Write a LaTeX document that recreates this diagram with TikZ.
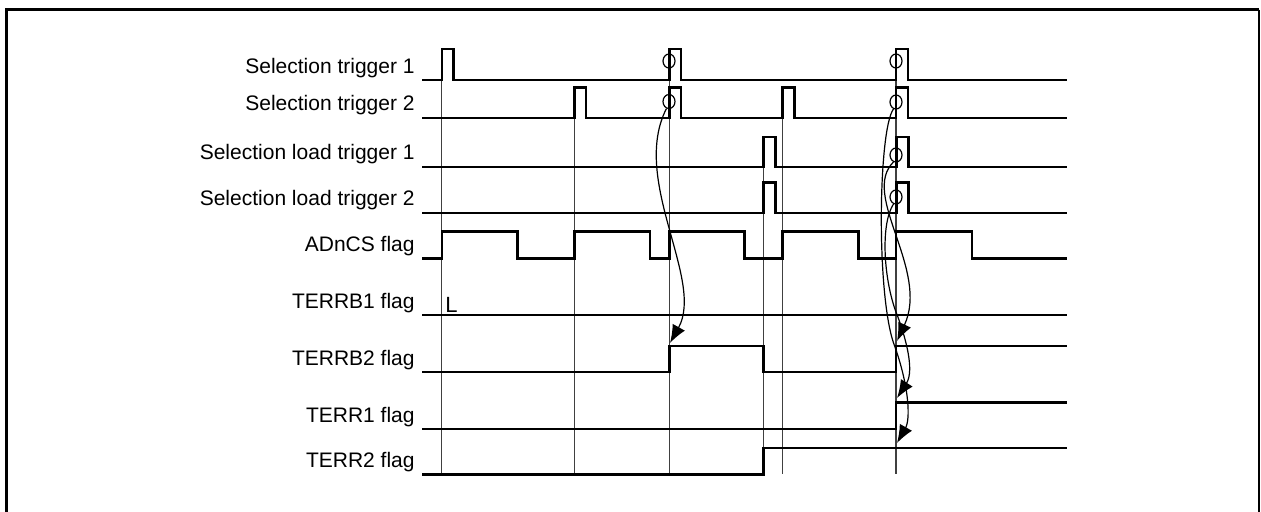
\documentclass[tikz,border=0pt]{standalone}
\usepackage{fontspec}
\setmainfont{Liberation Sans}
\usetikzlibrary{arrows.meta, shapes.geometric}

\begin{document}
\begin{tikzpicture}[x=0.5pt, y=-0.5pt,
			font=\fontsize{10.5}{12}\selectfont,
			sig/.style={line width=1.2pt, line join=miter},
			guide/.style={black!75, line width=0.6pt},
			lbl/.style={anchor=base east, inner sep=0pt},
			ring/.style={draw, ellipse, line width=0.6pt, minimum width=6pt, minimum height=7pt, inner sep=0pt},
			link/.style={-{Latex[length=9pt,width=7pt]}, line width=0.6pt}]   % arrow tips
			\useasboundingbox (0,0) rectangle (1261,511);
			% frame
			\draw[line width=1.5pt] (6.7,515) -- (6.7,9.5) -- (1259,9.5);
			\draw[line width=1pt] (1259,9.5) -- (1259,515);
			% signal names
			\foreach \n/\y/\t in {st1/80/Selection trigger 1, st2/117.7/Selection trigger 2,
				slt1/166.7/Selection load trigger 1, slt2/212.7/Selection load trigger 2,
				adcs/258.3/ADnCS flag, terrb1/315/TERRB1 flag, terrb2/372/TERRB2 flag,
				terr1/429/TERR1 flag, terr2/474.3/TERR2 flag}
				\node[lbl] (\n) at (415,\y-7) {\t};
			\node[anchor=base west, inner sep=0pt, font=\fontsize{11}{13}\selectfont] (low) at (445,312) {L};
			% timing guides
			\foreach \x/\y in {441.7/49, 574.3/87.3, 669.3/49, 763.5/136.7, 782.5/87.3, 896/49}
				\draw[guide] (\x,\y) -- (\x,474.3);
			% waveforms
			\draw[sig] (422,80) -- (441.7,80) |- (453.3,49) |- (669.3,80) |- (681,49) |- (896,80) |- (907.7,49) |- (1067,80);
			\draw[sig] (422,117.7) -- (574.3,117.7) |- (585.7,87.3) |- (669.3,117.7) |- (681,87.3) |- (782.5,117.7) |- (794.5,87.3) |- (896,117.7) |- (907.7,87.3) |- (1067,117.7);
			\draw[sig] (422,166.7) -- (763.5,166.7) |- (775.5,136.7) |- (896.5,166.7) |- (908.5,136.7) |- (1067,166.7);
			\draw[sig] (422,212.7) -- (763.5,212.7) |- (775.5,182.3) |- (896.5,212.7) |- (908.5,182.3) |- (1067,212.7);
			\draw[sig] (422,258.3) -- (441.7,258.3) |- (517.3,231.3) |- (574.3,258.3) |- (650,231.3) |- (669.3,258.3) |- (744.3,231.3) |- (782.5,258.3) |- (858.3,231.3) |- (896,258.3) |- (972,231.3) |- (1067,258.3);
			\draw[sig] (422,315) -- (1067,315);
			\draw[sig] (422,372) -- (669.3,372) |- (763.3,345.7) |- (896,372) |- (1067,345.7);
			\draw[sig] (422,429) -- (896,429) |- (1067,402.3);
			\draw[sig] (422,474.3) -- (763.3,474.3) |- (1067,447.7);
			% trigger marks
			\node[ring] (r1) at (669,61) {};
			\node[ring] (r2) at (669,101.5) {};
			\node[ring] (r3) at (896,61) {};
			\node[ring] (r4) at (896,102) {};
			\node[ring] (r5) at (896,155) {};
			\node[ring] (r6) at (896,197) {};
			% flag edges hit by the arrows
			\coordinate (eb2a) at (670,343);
			\coordinate (eb2b) at (897,341);
			\coordinate (e1) at (897,398);
			\coordinate (e2) at (897,443);
			% arrows
			\draw[link] (r2.250) .. controls (630,180) and (705,280) .. (eb2a);
			\draw[link] (r4.250) .. controls (878,130) and (876,300) .. (895,347) .. controls (910,390) and (910,420) .. (e2);
			\draw[link] (r5.250) .. controls (860,195) and (930,270) .. (eb2b);
			\draw[link] (r6.250) .. controls (880,225) and (884,280) .. (896,312) .. controls (905,335) and (915,370) .. (e1);
		\end{tikzpicture}
\end{document}
